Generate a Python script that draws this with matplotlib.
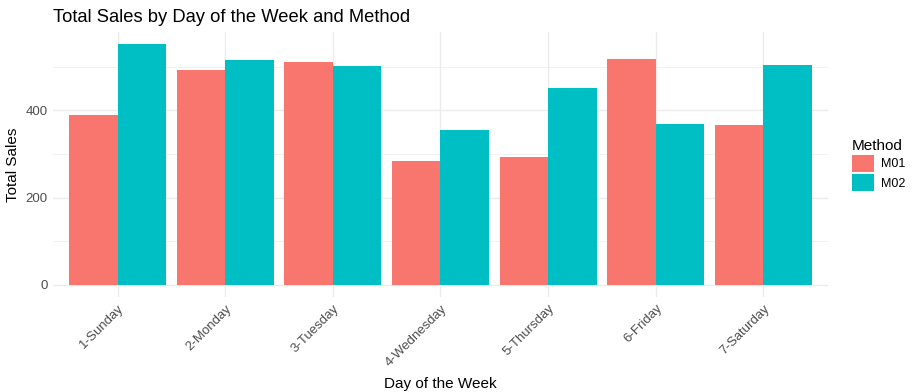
import matplotlib
matplotlib.use("Agg")
import matplotlib.pyplot as plt
import numpy as np
from matplotlib.patches import Patch

plt.rcParams['font.family'] = ['Liberation Sans', 'DejaVu Sans']

days = ["1-Sunday", "2-Monday", "3-Tuesday", "4-Wednesday", "5-Thursday", "6-Friday", "7-Saturday"]
methods = ["M01", "M02"]
m01 = [389, 492, 511, 284, 294, 517, 366]
m02 = [552, 515, 501, 355, 451, 369, 504]
colors = ["#F8766D", "#00BFC4"]

fig = plt.figure(figsize=(9.18, 3.92), dpi=100)
ax = fig.add_axes([53/918, 1 - 297/392, (828-53)/918, (297-32)/392])

x = np.arange(len(days))
w = 0.45
ax.bar(x - w/2, m01, width=w, color=colors[0], zorder=3, linewidth=0)
ax.bar(x + w/2, m02, width=w, color=colors[1], zorder=3, linewidth=0)

ymax = max(max(m01), max(m02))
ax.set_ylim(-ymax*0.05, ymax*1.05)
ax.set_xlim(-0.6, len(days) - 0.4)

ax.set_yticks([0, 200, 400])
ax.set_yticks([100, 300, 500], minor=True)
ax.set_xticks(x)
ax.set_xticklabels(days, rotation=45, ha='right', rotation_mode='anchor', color='#4D4D4D', fontsize=9.5)
ax.tick_params(axis='y', labelcolor='#4D4D4D', labelsize=9.5, length=0, pad=4)
ax.tick_params(axis='x', length=0, pad=4)
ax.tick_params(which='minor', length=0)

ax.grid(True, which='major', color='#EBEBEB', linewidth=1.0, zorder=0)
ax.grid(True, which='minor', axis='y', color='#EBEBEB', linewidth=0.5, zorder=0)
for s in ax.spines.values():
    s.set_visible(False)

ax.set_xlabel("Day of the Week", fontsize=11, color='black', labelpad=6)
ax.set_ylabel("Total Sales", fontsize=11, color='black', labelpad=4)
fig.text(53/918, 1 - 17/392, "Total Sales by Day of the Week and Method", fontsize=13.2, va='center', ha='left')

handles = [Patch(facecolor=c, edgecolor='none') for c in colors]
leg = fig.legend(handles, methods, title="Method", loc='center left', bbox_to_anchor=(843/918, 1 - 165/392),
                 frameon=False, fontsize=9, title_fontsize=11, handlelength=1.75, handleheight=1.75,
                 handletextpad=0.6, labelspacing=0.15, alignment='left', borderpad=0.2)

fig.savefig("out.png", dpi=100)
